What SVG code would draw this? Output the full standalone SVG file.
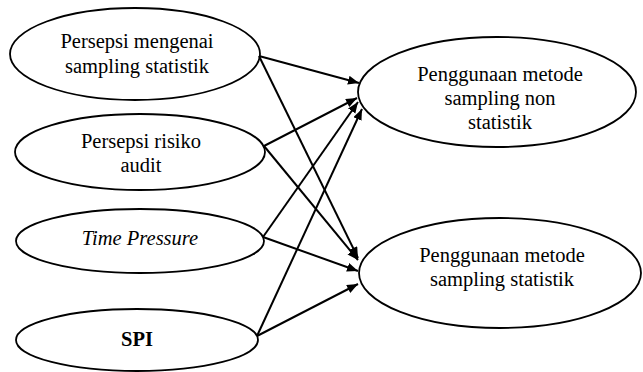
<svg xmlns="http://www.w3.org/2000/svg" width="643" height="372" viewBox="0 0 643 372">
<style>
.node ellipse{fill:#fff;stroke:#000;stroke-width:1.8}
.node text{font-family:"Liberation Serif","Times New Roman",serif;font-size:20.5px;fill:#000;text-anchor:middle}
.edges line{stroke:#000;stroke-width:2}
</style>
<defs>
<marker id="arr" markerUnits="userSpaceOnUse" markerWidth="12" markerHeight="10" refX="11" refY="4.5" orient="auto">
<path d="M0,0 L11,4.5 L0,9 z" fill="#000"/>
</marker>
</defs>
<rect width="643" height="372" fill="#fff"/>
<g id="n1" class="node"><ellipse cx="135" cy="54" rx="125" ry="46"/><text x="137" y="48">Persepsi mengenai</text><text x="137" y="73">sampling statistik</text></g>
<g id="n2" class="node"><ellipse cx="140" cy="152" rx="125" ry="38"/><text x="141" y="148">Persepsi risiko</text><text x="141" y="172">audit</text></g>
<g id="n3" class="node"><ellipse cx="140" cy="241" rx="124" ry="32"/><text x="140" y="245" font-style="italic">Time Pressure</text></g>
<g id="n4" class="node"><ellipse cx="137" cy="340" rx="121" ry="31"/><text x="137" y="346" font-weight="bold">SPI</text></g>
<g id="n5" class="node"><ellipse cx="497" cy="92" rx="139" ry="55"/><text x="500" y="81">Penggunaan metode</text><text x="500" y="105">sampling non</text><text x="500" y="129">statistik</text></g>
<g id="n6" class="node"><ellipse cx="500" cy="273" rx="141" ry="55"/><text x="502" y="262">Penggunaan metode</text><text x="502" y="286">sampling statistik</text></g>
<g class="edges">
<line x1="259" y1="56" x2="359" y2="83" marker-end="url(#arr)"/>
<line x1="259" y1="56" x2="358" y2="258" marker-end="url(#arr)"/>
<line x1="264" y1="146" x2="357" y2="98" marker-end="url(#arr)"/>
<line x1="264" y1="146" x2="358" y2="260" marker-end="url(#arr)"/>
<line x1="263" y1="237" x2="358" y2="102" marker-end="url(#arr)"/>
<line x1="263" y1="237" x2="358" y2="271" marker-end="url(#arr)"/>
<line x1="257" y1="336" x2="362" y2="109" marker-end="url(#arr)"/>
<line x1="257" y1="336" x2="358" y2="284" marker-end="url(#arr)"/>
</g>
</svg>
